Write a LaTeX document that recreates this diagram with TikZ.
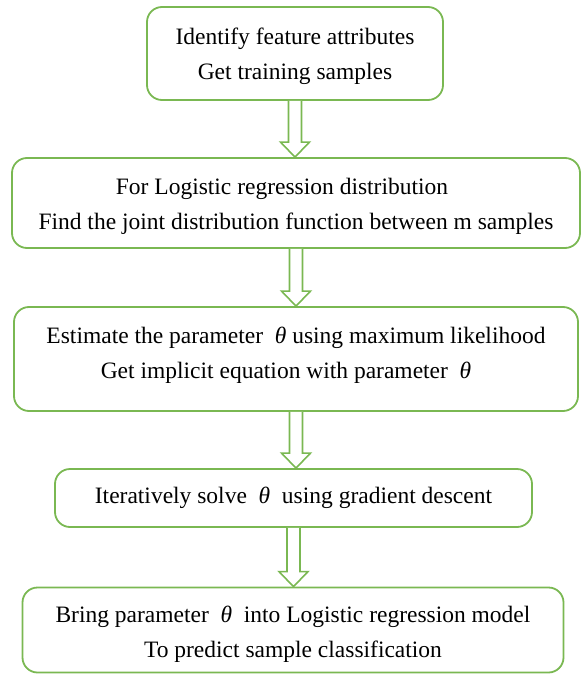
\documentclass[tikz,border=0pt]{standalone}
\usepackage{fontspec}
\setmainfont{Liberation Serif}
\usetikzlibrary{calc,positioning}
\definecolor{verdeCaja}{RGB}{122,184,82}

% box text: centred lines, nudged vertically by #1
\newcommand{\boxtext}[2]{%
  \raisebox{#1}[\height][\depth]{\begin{tabular}{@{}c@{}}#2\end{tabular}}}
% hollow block arrow between two stacked boxes
\newcommand{\hollowarrow}[2]{%
  \draw[hollow] let \p1=(#1.south), \p2=(#2.north) in
    (\x1-6.5pt,\y1) -- (\x1-6.5pt,\y2+15pt) -- (\x1-14.5pt,\y2+15pt)
    -- (\x1,\y2) -- (\x1+14.5pt,\y2+15pt) -- (\x1+6.5pt,\y2+15pt)
    -- (\x1+6.5pt,\y1);}

\begin{document}
\begin{tikzpicture}[x=1pt,y=-1pt,
      box/.style  = {rectangle, rounded corners=15pt, draw=verdeCaja,
          line width=1.8pt, fill=white, inner sep=0pt,
          font=\fontsize{23.5}{35}\selectfont},
      hollow/.style = {draw=verdeCaja, line width=1.6pt, fill=white,
          line join=miter},
    ]
    \useasboundingbox (0,0) rectangle (583,674);

    % ── Cajas ────────────────────────────────────────────────────
    \node[box, minimum width=296pt, minimum height=93pt]  (ident) at (295,53.5)
        {\boxtext{-2pt}{Identify feature attributes\\Get training samples}};
    \node[box, minimum width=568pt, minimum height=90pt]  (joint) at (296,203)
        {\boxtext{-2pt}{For Logistic regression distribution\hspace*{28pt}\\
         Find the joint distribution function between m samples}};
    \node[box, minimum width=564pt, minimum height=104pt] (mle)   at (296,359)
        {\boxtext{5pt}{Estimate the parameter\ \ \textit{θ} using maximum likelihood\\
         Get implicit equation with parameter\ \ \textit{θ}\hspace*{20pt}}};
    \node[box, minimum width=477pt, minimum height=58pt]  (grad)  at (293.5,498)
        {\boxtext{2pt}{Iteratively solve\ \ \textit{θ}\ \ using gradient descent}};
    \node[box, minimum width=541pt, minimum height=85pt]  (pred)  at (293,630)
        {\boxtext{-3pt}{Bring parameter\ \ \textit{θ}\ \ into Logistic regression model\\
         To predict sample classification}};

    % ── Flechas huecas ───────────────────────────────────────────
    \hollowarrow{ident}{joint}
    \hollowarrow{joint}{mle}
    \hollowarrow{mle}{grad}
    \hollowarrow{grad}{pred}

\end{tikzpicture}
\end{document}
